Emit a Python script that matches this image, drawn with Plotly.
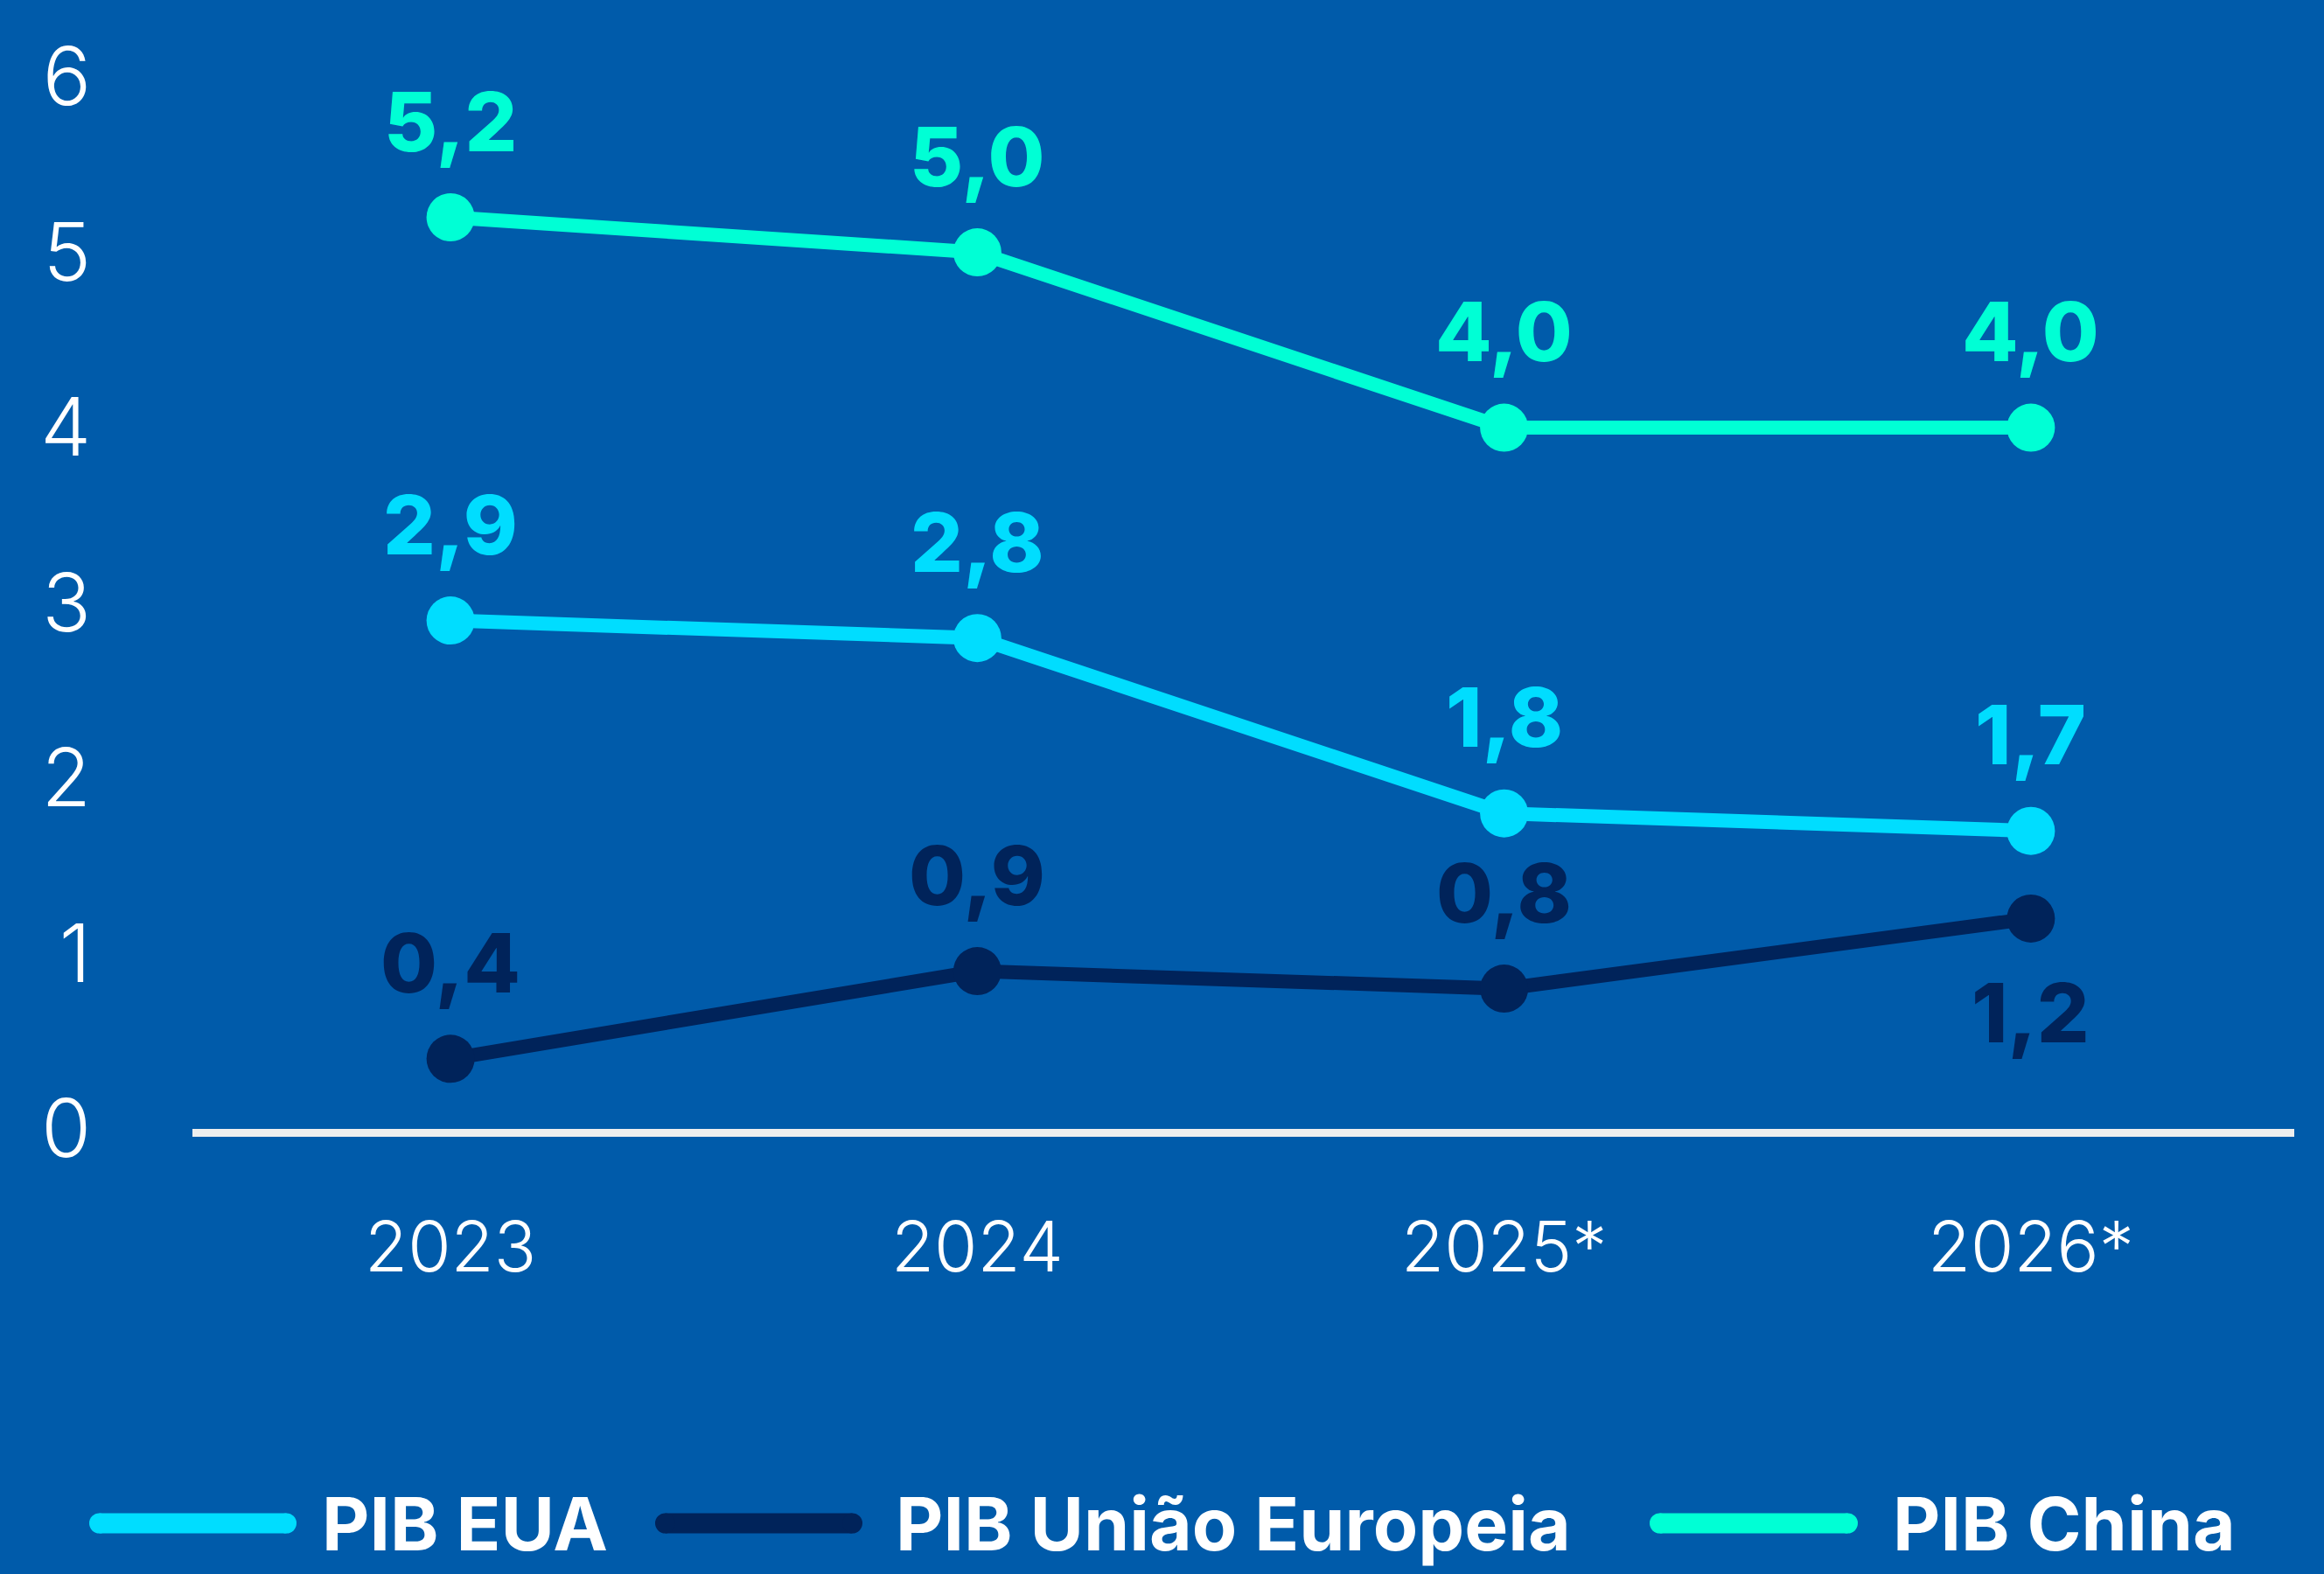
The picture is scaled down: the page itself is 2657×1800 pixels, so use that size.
import plotly.graph_objects as go

years = ["2023", "2024", "2025*", "2026*"]
pib_eua = [2.9, 2.8, 1.8, 1.7]
pib_ue = [0.4, 0.9, 0.8, 1.2]
pib_china = [5.2, 5.0, 4.0, 4.0]
ue_label_below = [False, False, False, True]
y_ticks = [0, 1, 2, 3, 4, 5, 6]

BG = "#005BAA"
C_EUA = "#00DDFF"
C_UE = "#00235A"
C_CHINA = "#00FFD5"

W, H = 2657, 1800
L, R, T, B = 220, 34, 38, 509
PW, PH = W - L - R, H - T - B

def fmt(v):
    return f"{v:.1f}".replace(".", ",")

fig = go.Figure()
series = [
    ("PIB EUA", pib_eua, C_EUA, [False] * 4),
    ("PIB União Europeia", pib_ue, C_UE, ue_label_below),
    ("PIB China", pib_china, C_CHINA, [False] * 4),
]
for name, vals, col, below in series:
    fig.add_trace(go.Scatter(
        x=years, y=vals, name=name, mode="lines+markers",
        line=dict(color=col, width=16),
        marker=dict(color=col, size=55),
        showlegend=False, cliponaxis=False, hoverinfo="skip",
    ))
    for i, (yv, bl) in enumerate(zip(vals, below)):
        fig.add_annotation(
            x=i, y=yv, text=fmt(yv), showarrow=False,
            yshift=-108 if bl else 110, yanchor="middle",
            font=dict(family="Inter", size=94, color=col, weight=800),
        )

# custom legend
def px_x(p):
    return (p - L) / PW

def px_y(p):
    return (H - B - p) / PH

leg_y = 1742
legend_items = [
    ("PIB EUA", C_EUA, 102, 339, 366),
    ("PIB União Europeia", C_UE, 749, 986, 1022),
    ("PIB China", C_CHINA, 1886, 2124, 2162),
]
thick = 23
for text, col, x0, x1, tx in legend_items:
    fig.add_shape(type="line", xref="paper", yref="paper",
                  x0=px_x(x0 + thick / 2), x1=px_x(x1 - thick / 2),
                  y0=px_y(leg_y), y1=px_y(leg_y),
                  line=dict(color=col, width=thick))
    for cx in (x0 + thick / 2, x1 - thick / 2):
        fig.add_shape(type="circle", xref="paper", yref="paper",
                      x0=px_x(cx - thick / 2), x1=px_x(cx + thick / 2),
                      y0=px_y(leg_y + thick / 2), y1=px_y(leg_y - thick / 2),
                      fillcolor=col, line=dict(width=0))
    fig.add_annotation(xref="paper", yref="paper", x=px_x(tx), y=px_y(leg_y),
                       text=text, showarrow=False, xanchor="left", yanchor="middle",
                       font=dict(family="Inter", size=84, color="white", weight=700))

fig.update_layout(
    width=W, height=H,
    paper_bgcolor=BG, plot_bgcolor=BG,
    margin=dict(l=L, r=R, t=T, b=B, autoexpand=False),
    showlegend=False,
    xaxis=dict(
        type="category", range=[-0.49, 3.5], showgrid=False, zeroline=False,
        showline=True, linecolor="#EEEEEE", linewidth=9, ticks="",
        ticklabelstandoff=58,
        tickfont=dict(family="Inter", size=80, color="white", weight=300),
    ),
    yaxis=dict(
        range=[0, 6.25], showgrid=False, zeroline=False, showline=False,
        tickvals=y_ticks, ticktext=[str(v) for v in y_ticks], ticks="",
        ticklabelstandoff=115,
        tickfont=dict(family="Inter", size=92, color="white", weight=300),
    ),
)

fig.write_html("out.html", config={"displayModeBar": False},
               post_script="document.body.style.margin='0';document.body.style.overflow='hidden';")
